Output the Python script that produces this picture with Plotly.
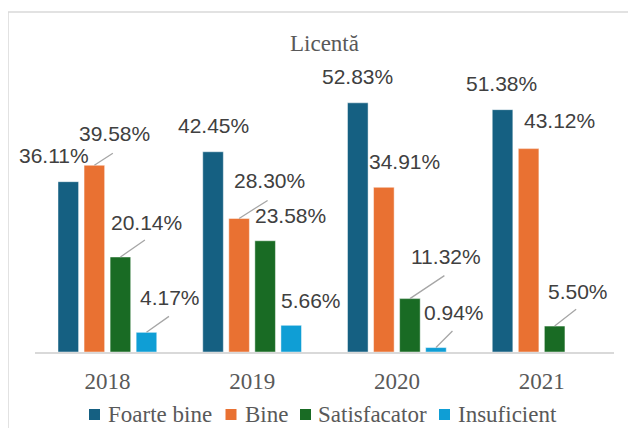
import plotly.graph_objects as go

# data
years = ["2018", "2019", "2020", "2021"]
foarte_bine = [36.11, 42.45, 52.83, 51.38]
bine = [39.58, 28.30, 34.91, 43.12]
satisfacator = [20.14, 23.58, 11.32, 5.50]
insuficient = [4.17, 5.66, 0.94, None]

series_names = ["Foarte bine", "Bine", "Satisfacator", "Insuficient"]
series_values = [foarte_bine, bine, satisfacator, insuficient]
colors = ["#156082", "#E97132", "#196B24", "#0F9ED5"]

# label placement (pixels from bar top) and leader line ends (None = no line)
label_offsets = [
    [(-14, -26), (0, -26), (0, -26), (-1, -26)],
    [(20, -32), (30, -38), (21, -26), (31, -28)],
    [(26, -35), (25, -25), (36, -42), (23, -35)],
    [(24, -35), (20, -25), (18, -35), None],
]
leader_ends = [
    [None, None, None, None],
    [(20, -13), (30, -19), None, None],
    [(26, -18), None, (36, -24), (23, -18)],
    [(24, -17), None, (18, -18), None],
]

# page has an 8px body margin, so the figure is drawn a bit smaller
OFF = 8
W, H = 636 - OFF, 428 - OFF
ML, MR, MT, MB = 35 - OFF, 22, 69 - OFF, 76
BARGAP = 0.28
SERIF = "Liberation Serif"
SANS = "Liberation Sans"

plot_w = W - ML - MR
plot_h = H - MT - MB


def px_x(px):
    # window pixel -> paper x
    return (px - OFF - ML) / plot_w


def px_y(py):
    # window pixel -> paper y
    return (H - MB - (py - OFF)) / plot_h


fig = go.Figure()
for name, vals, col in zip(series_names, series_values, colors):
    fig.add_trace(go.Bar(
        x=years,
        y=vals,
        name=name,
        marker=dict(color=col, line=dict(color="rgba(255,255,255,0.45)", width=1)),
        hoverinfo="skip",
        showlegend=False,
    ))

# data labels + leader lines
n = len(series_names)
slot = (1 - BARGAP) / n
annotations = []
for k, vals in enumerate(series_values):
    for i, v in enumerate(vals):
        if v is None:
            continue
        xpos = i + (k - (n - 1) / 2) * slot
        dx, dy = label_offsets[k][i]
        annotations.append(dict(
            x=xpos, y=v, xref="x", yref="y",
            text=f"{v:.2f}%", showarrow=False,
            xshift=dx, yshift=-dy,
            xanchor="center", yanchor="middle",
            font=dict(family=SANS, size=21, color="#404040"),
        ))
        end = leader_ends[k][i]
        if end is not None:
            annotations.append(dict(
                x=xpos, y=v, xref="x", yref="y",
                text="", showarrow=True, arrowhead=0,
                ax=end[0], ay=end[1],
                arrowwidth=1.3, arrowcolor="#a6a6a6",
                font=dict(size=1),
            ))

# legend drawn by hand so the swatch sits close to its text like the original
legend_swatch_x = [89, 225.5, 300, 439]
legend_text_x = [106, 243, 316, 456]
legend_y = 414
shapes = [dict(
    type="rect", xref="paper", yref="paper",
    x0=px_x(OFF), x1=1.2,
    y0=-0.6, y1=px_y(12),
    line=dict(color="#d9d9d9", width=1.5),
    fillcolor="rgba(0,0,0,0)",
    layer="below",
)]
for name, col, sx, tx in zip(series_names, colors, legend_swatch_x, legend_text_x):
    shapes.append(dict(
        type="rect", xref="paper", yref="paper",
        x0=px_x(sx), x1=px_x(sx + 11),
        y0=px_y(legend_y + 6), y1=px_y(legend_y - 5),
        line=dict(width=0), fillcolor=col,
    ))
    annotations.append(dict(
        x=px_x(tx), y=px_y(legend_y), xref="paper", yref="paper",
        text=name, showarrow=False, xanchor="left", yanchor="middle",
        font=dict(family=SERIF, size=23, color="#595959"),
    ))

fig.update_layout(
    width=W, height=H,
    margin=dict(l=ML, r=MR, t=MT, b=MB, autoexpand=False),
    paper_bgcolor="white",
    plot_bgcolor="white",
    barmode="group",
    bargap=BARGAP,
    bargroupgap=0.21,
    title=dict(
        text="Licentă",
        x=0.5, xref="paper", xanchor="center",
        y=1 - (43 - OFF) / H, yref="container", yanchor="middle",
        font=dict(family=SERIF, size=23, color="#595959"),
    ),
    xaxis=dict(
        type="category",
        range=[-0.5, len(years) - 0.5],
        automargin=False,
        showgrid=False,
        showline=True, linecolor="#d9d9d9", linewidth=2,
        ticks="", ticklabelstandoff=7,
        tickfont=dict(family=SERIF, size=23, color="#595959"),
    ),
    yaxis=dict(range=[0, 60], visible=False, showgrid=False, automargin=False),
    showlegend=False,
    annotations=annotations,
    shapes=shapes,
)

fig.write_html("out.html")
